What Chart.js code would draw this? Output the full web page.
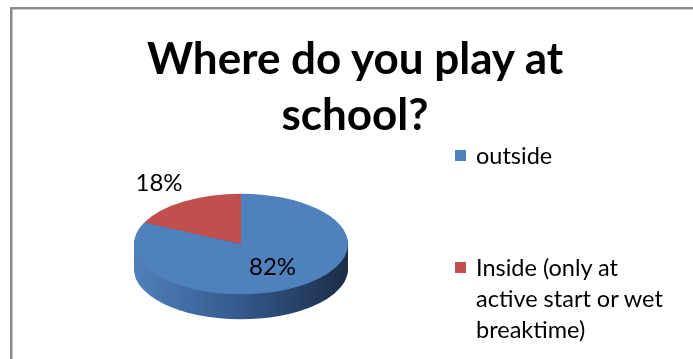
<!DOCTYPE html>
<html>
<head>
<meta charset="utf-8">
<script src="https://cdn.jsdelivr.net/npm/chart.js@4/dist/chart.umd.min.js"></script>
<style>
  html, body { margin: 0; padding: 0; background: #fff; }
  #wrap { position: relative; width: 693px; height: 359px; overflow: hidden; background: #fff; }
  #frame { position: absolute; left: 10px; top: 7px; right: -10px; bottom: -10px;
           border-top: 2px solid #8a8a8a; border-left: 2px solid #8a8a8a; box-shadow: inset 1px 1px 0 #c8c8c8; }
  #c { position: absolute; left: 0; top: 0; }
  #title { position: absolute; left: 0; width: 710px; top: 29px; text-align: center;
           font-family: Lato, sans-serif; font-weight: bold; font-size: 44px; line-height: 56px; color: #000; }
  .leg { position: absolute; left: 455px; font-family: Lato, sans-serif; font-size: 23.5px; line-height: 31px; color: #000; }
  .leg .sw { position: absolute; left: 0; top: 10px; width: 11px; height: 11px; }
  .leg .tx { position: absolute; left: 21px; top: 0; white-space: nowrap; }
</style>
</head>
<body>
<div id="wrap">
  <div id="frame"></div>
  <canvas id="c" width="693" height="359"></canvas>
  <div id="title"></div>
  <div id="legend"></div>
</div>
<script>
const titleLines = ['Where do you play at', 'school?'];
const categories = ['outside', 'Inside (only at active start or wet breaktime)'];
const legendLines = [['outside'], ['Inside (only at', 'active start or wet', 'breaktime)']];
const values = [82, 18];
const colors = ['#4f81bd', '#c0504d'];

document.getElementById('title').innerHTML = titleLines.join('<br>');

const legendTops = [140, 252];
const legendEl = document.getElementById('legend');
categories.forEach((c, i) => {
  const d = document.createElement('div');
  d.className = 'leg';
  d.style.top = legendTops[i] + 'px';
  d.innerHTML = '<div class="sw" style="background:' + colors[i] + '"></div><div class="tx">' + legendLines[i].join('<br>') + '</div>';
  legendEl.appendChild(d);
});

const pie3d = {
  id: 'pie3d',
  beforeDatasetsDraw(chart, args, opts) {
    const ctx = chart.ctx;
    const arcs = chart.getDatasetMeta(0).data;
    if (!arcs.length) return;
    const cx = arcs[0].x, cy = arcs[0].y, r = arcs[0].outerRadius;
    const grad = ctx.createLinearGradient(cx - r, 0, cx + r, 0);
    grad.addColorStop(0, '#5080ba');
    grad.addColorStop(0.45, '#375d92');
    grad.addColorStop(1, '#1b2d47');
    for (let k = opts.depth; k >= 1; k--) {
      ctx.save();
      ctx.translate(cx, cy + k);
      ctx.scale(1, opts.tilt);
      ctx.translate(-cx, -cy);
      arcs.forEach(a => {
        const g = Object.assign(Object.create(Object.getPrototypeOf(a)), a);
        g.options = Object.assign({}, a.options, { backgroundColor: grad, borderWidth: 0 });
        g.draw(ctx);
      });
      ctx.restore();
    }
    ctx.save();
    ctx.translate(cx, cy);
    ctx.scale(1, opts.tilt);
    ctx.translate(-cx, -cy);
  },
  afterDatasetsDraw(chart, args, opts) {
    const ctx = chart.ctx;
    ctx.restore();
    const arcs = chart.getDatasetMeta(0).data;
    const total = values.reduce((s, v) => s + v, 0);
    ctx.save();
    ctx.font = '24px Lato, sans-serif';
    ctx.fillStyle = '#000';
    ctx.textAlign = 'center';
    ctx.textBaseline = 'middle';
    arcs.forEach((a, i) => {
      const mid = (a.startAngle + a.endAngle) / 2;
      const f = opts.labelRadius[i];
      const x = a.x + Math.cos(mid) * a.outerRadius * f;
      const y = a.y + Math.sin(mid) * a.outerRadius * f * opts.tilt;
      ctx.fillText(Math.round(values[i] / total * 100) + '%', x, y);
    });
    ctx.restore();
  }
};

new Chart(document.getElementById('c'), {
  type: 'pie',
  data: {
    labels: categories,
    datasets: [{ data: values, backgroundColor: colors, borderWidth: 0 }]
  },
  plugins: [pie3d],
  options: {
    responsive: false,
    animation: false,
    layout: { padding: { left: 134, right: 345, top: 137, bottom: 8 } },
    plugins: {
      legend: { display: false },
      tooltip: { enabled: false },
      title: { display: false },
      pie3d: { tilt: 0.47, depth: 25, labelRadius: [0.55, 1.43] }
    }
  }
});
</script>
</body>
</html>
